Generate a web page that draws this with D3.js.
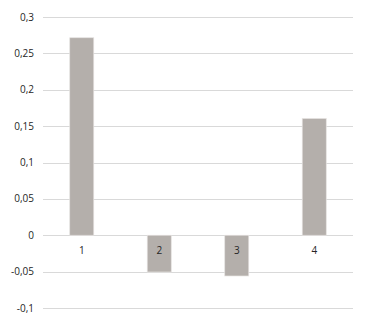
<!DOCTYPE html>
<html>
<head>
<meta charset="utf-8">
<script src="https://cdn.jsdelivr.net/npm/d3@7"></script>
<style>
  body { margin: 0; background: #fff; }
  text { font-family: "Open Sans", "DejaVu Sans", sans-serif; font-size: 10px; fill: #262626; }
</style>
</head>
<body>
<svg width="367" height="315"></svg>
<script>
// chart data
var categories = ["1", "2", "3", "4"];
var values = [0.2715, -0.0505, -0.056, 0.1605];
var yTicks = [-0.1, -0.05, 0, 0.05, 0.1, 0.15, 0.2, 0.25, 0.3];

var svg = d3.select("svg"),
    margin = { top: 17, right: 14, bottom: 7, left: 43 },
    width = +svg.attr("width") - margin.left - margin.right,
    height = +svg.attr("height") - margin.top - margin.bottom;

var g = svg.append("g")
    .attr("transform", "translate(" + margin.left + "," + margin.top + ")");

var x = d3.scaleBand()
    .domain(categories)
    .range([0, width])
    .paddingInner(0.69)
    .paddingOuter(0.345);

var y = d3.scaleLinear()
    .domain([-0.1, 0.3])
    .range([height, 0]);

var fmt = function (d) {
    return String(+d.toFixed(2)).replace(".", ",");
};

// gridlines
g.selectAll(".grid")
    .data(yTicks)
    .enter()
    .append("line")
    .attr("x1", 0)
    .attr("x2", width)
    .attr("y1", function (d) { return Math.round(y(d)) + 0.5; })
    .attr("y2", function (d) { return Math.round(y(d)) + 0.5; })
    .attr("stroke", "#d9d9d9")
    .attr("stroke-width", 1);

// y labels
g.selectAll(".ylab")
    .data(yTicks)
    .enter()
    .append("text")
    .attr("x", -9)
    .attr("y", function (d) { return y(d); })
    .attr("dy", "0.35em")
    .attr("text-anchor", "end")
    .text(fmt);

// bars
g.selectAll(".bar")
    .data(values)
    .enter()
    .append("rect")
    .attr("class", "bar")
    .attr("x", function (d, i) { return x(categories[i]); })
    .attr("y", function (d) { return y(Math.max(0, d)); })
    .attr("width", x.bandwidth())
    .attr("height", function (d) { return Math.abs(y(d) - y(0)); })
    .attr("fill", "#b4afab")
    .attr("stroke", "#e6e3e1")
    .attr("stroke-width", 0.7);

// category labels
g.selectAll(".xlab")
    .data(categories)
    .enter()
    .append("text")
    .attr("x", function (d) { return x(d) + x.bandwidth() / 2; })
    .attr("y", y(0) + 15)
    .attr("dy", "0.35em")
    .attr("text-anchor", "middle")
    .text(function (d) { return d; });
</script>
</body>
</html>
